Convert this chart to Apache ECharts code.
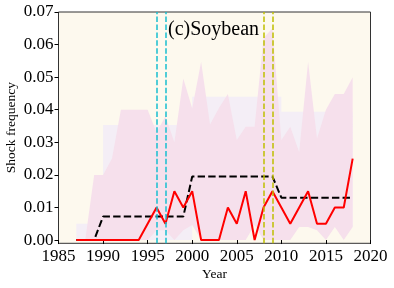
<!DOCTYPE html>
<html><head><meta charset="utf-8">
<script src="https://cdn.jsdelivr.net/npm/echarts@6/dist/echarts.min.js"></script>
<style>html,body{margin:0;padding:0;background:#fff}#c{width:394px;height:288px}</style>
</head><body><div id="c"></div>
<script>
const years = [1987,1988,1989,1990,1991,1992,1993,1994,1995,1996,1997,1998,1999,2000,2001,2002,2003,2004,2005,2006,2007,2008,2009,2010,2011,2012,2013,2014,2015,2016,2017,2018];
// observed shock frequency (red)
const observed = [0,0,0,0,0,0,0,0,0.005,0.01,0.005,0.015,0.01,0.015,0,0,0,0.01,0.005,0.015,0,0.01,0.015,0.01,0.005,0.01,0.015,0.005,0.005,0.01,0.01,0.025];
// regime mean (black dashed)
const regimeMean = [0,0,0,0.0072,0.0072,0.0072,0.0072,0.0072,0.0072,0.0072,0.0072,0.0072,0.0072,0.0195,0.0195,0.0195,0.0195,0.0195,0.0195,0.0195,0.0195,0.0195,0.0195,0.013,0.013,0.013,0.013,0.013,0.013,0.013,0.013,0.013];
// regime band (lavender)
const regimeLow = [0,0,0,0,0,0,0,0,0,0,0,0,0,0.0045,0.0045,0.0045,0.0045,0.0045,0.0045,0.0045,0.0045,0.0045,0.0045,0.004,0.004,0.004,0.004,0.004,0.004,0.004,0.004,0.004];
const regimeHigh = [0.005,0.005,0.005,0.0353,0.0353,0.0353,0.0353,0.0353,0.0353,0.0353,0.0353,0.0353,0.0353,0.044,0.044,0.044,0.044,0.044,0.044,0.044,0.044,0.044,0.044,0.0394,0.0394,0.0394,0.0394,0.0394,0.0394,0.0394,0.0394,0.0394];
// annual band (pink)
const annualLow = [0,0,0,0,0,0,0,0,0,0.003,0.003,0,0.003,0.0046,0,0,0,0,0,0,0.0046,0,0,0,0,0.004,0.004,0.003,0,0.004,0,0.004];
const annualHigh = [0,0,0.02,0.02,0.025,0.04,0.04,0.04,0.04,0.033,0.038,0.030,0.0496,0.0404,0.0547,0.0355,0.0405,0.0448,0.0307,0.0348,0.0348,0.062,0.065,0.0307,0.0348,0.027,0.0547,0.0312,0.04,0.0448,0.0448,0.05];
const cyanYears = [1996, 1997];
const yellowYears = [2008, 2009];
const yTicks = [0,0.01,0.02,0.03,0.04,0.05,0.06,0.07];
const titleText = '(c)Soybean';

const FF = 'Liberation Serif';
const pair = arr => years.map((y, i) => [y, arr[i]]);
const triple = (lo, hi) => years.map((y, i) => [y, lo[i], hi[i]]);

// band polygon through the axis scales; step=true draws a step-after band
function bandRenderer(lo, hi, color, step) {
  return function (params, api) {
    if (params.dataIndex !== 0) return null;
    const top = [], bot = [];
    for (let i = 0; i < years.length; i++) {
      if (step && i > 0) {
        top.push(api.coord([years[i], hi[i - 1]]));
        bot.push(api.coord([years[i], lo[i - 1]]));
      }
      top.push(api.coord([years[i], hi[i]]));
      bot.push(api.coord([years[i], lo[i]]));
    }
    const pts = top.concat(bot.reverse());
    return { type: 'polygon', shape: { points: pts }, style: { fill: color, stroke: null }, silent: true };
  };
}

const chart = echarts.init(document.getElementById('c'), null, { renderer: 'canvas' });
chart.setOption({
  animation: false,
  title: {
    text: titleText, left: 168, top: 20, padding: 0,
    textStyle: { fontFamily: FF, fontSize: 20, fontWeight: 'normal', color: '#000' }
  },
  grid: {
    left: 58.5, right: 23.5, top: 12, bottom: 44.7,
    show: true, backgroundColor: '#fdf9ee', borderColor: '#333', borderWidth: 1,
    outerBoundsMode: 'none'
  },
  xAxis: {
    type: 'value', min: 1985, max: 2020, interval: 5,
    name: 'Year', nameLocation: 'middle', nameGap: 24, nameMoveOverlap: false,
    nameTextStyle: { fontFamily: FF, fontSize: 13.5, color: '#000' },
    axisLine: { show: false },
    axisTick: { show: true, length: 4, lineStyle: { color: '#000' } },
    axisLabel: { fontFamily: FF, fontSize: 17, color: '#000', margin: 5, formatter: v => String(v) },
    splitLine: { show: false }
  },
  yAxis: {
    type: 'value', min: -0.001, max: 0.07,
    name: 'Shock frequency', nameLocation: 'middle', nameGap: 40, nameMoveOverlap: false,
    nameTextStyle: { fontFamily: FF, fontSize: 13.5, color: '#000' },
    axisLine: { show: false },
    axisTick: { show: true, length: 4, lineStyle: { color: '#000' }, customValues: yTicks },
    axisLabel: { fontFamily: FF, fontSize: 17, color: '#000', margin: 5, customValues: yTicks,
      formatter: v => v.toFixed(2) },
    splitLine: { show: false }
  },
  series: [
    { type: 'custom', data: triple(regimeLow, regimeHigh), renderItem: bandRenderer(regimeLow, regimeHigh, '#f4eef6', true), silent: true },
    { type: 'custom', data: triple(annualLow, annualHigh), renderItem: bandRenderer(annualLow, annualHigh, '#f6e0ec', false), silent: true },
    { type: 'line', data: [], symbol: 'none',
      markLine: {
        symbol: 'none', silent: true, label: { show: false },
        data: cyanYears.map(y => ({ xAxis: y, lineStyle: { color: '#17becf', width: 1.5, type: [5.5, 2.4] } }))
          .concat(yellowYears.map(y => ({ xAxis: y, lineStyle: { color: '#bfbf00', width: 1.5, type: [5.5, 2.4] } })))
      }
    },
    { type: 'line', data: pair(regimeMean), symbol: 'none', lineStyle: { color: '#000', width: 2, type: [7.4, 3.2] } },
    { type: 'line', data: pair(observed), symbol: 'none', lineStyle: { color: '#ff0000', width: 2 } }
  ]
});
</script></body></html>
